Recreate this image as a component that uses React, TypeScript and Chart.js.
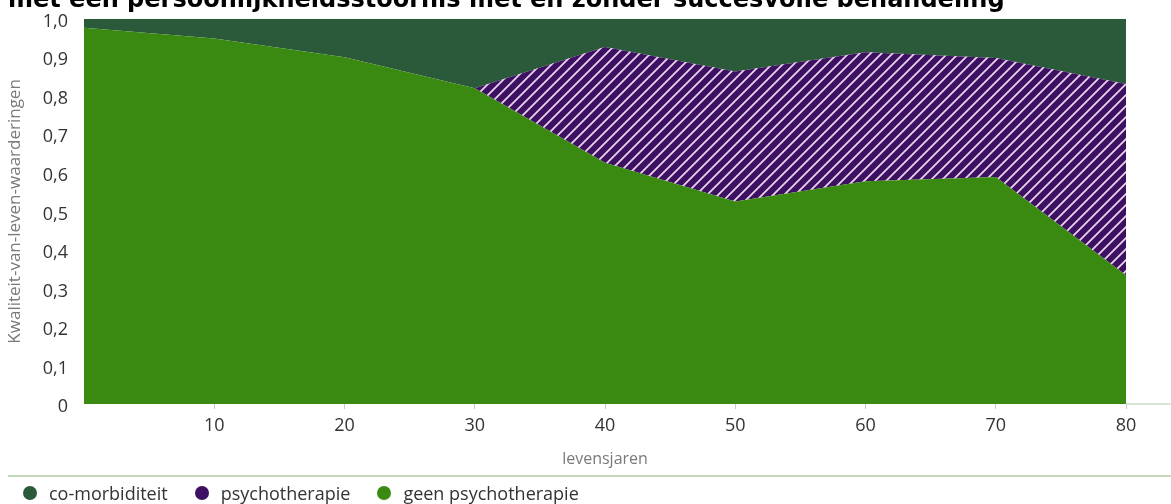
import React, { useEffect, useRef } from "react";
import { Chart, registerables } from "chart.js";

Chart.register(...registerables);

// ---- data ----
const ages = [0, 10, 20, 30, 40, 50, 60, 70, 80];
const geenPsychotherapie = [0.977, 0.949, 0.9, 0.82, 0.626, 0.526, 0.578, 0.589, 0.334];
const psychotherapie = [0, 0, 0, 0, 0.301, 0.337, 0.335, 0.309, 0.497];
const coMorbiditeit = [0.023, 0.051, 0.1, 0.18, 0.073, 0.137, 0.087, 0.102, 0.169];
const xTicks = [10, 20, 30, 40, 50, 60, 70, 80];
const yTickLabels = ["0", "0,1", "0,2", "0,3", "0,4", "0,5", "0,6", "0,7", "0,8", "0,9", "1,0"];

const TITLE = "met een persoonlijkheidsstoornis met en zonder succesvolle behandeling";
const Y_TITLE = "Kwaliteit-van-leven-waarderingen";
const X_TITLE = "levensjaren";

const COL_DARK = "#2b5a3b";
const COL_PURPLE = "#3d1062";
const COL_GREEN = "#3a8a12";
const COL_HATCH = "#e8d3ee";
const FONT = "'Open Sans', 'Noto Sans', sans-serif";

const legendItems = [
  { label: "co-morbiditeit", color: COL_DARK },
  { label: "psychotherapie", color: COL_PURPLE },
  { label: "geen psychotherapie", color: COL_GREEN },
];

function makeHatch(): CanvasPattern | string {
  const s = 11;
  const pc = document.createElement("canvas");
  pc.width = s;
  pc.height = s;
  const g = pc.getContext("2d");
  if (!g) return COL_PURPLE;
  g.fillStyle = COL_PURPLE;
  g.fillRect(0, 0, s, s);
  g.strokeStyle = COL_HATCH;
  g.lineWidth = 1.8;
  g.beginPath();
  g.moveTo(-1, s + 1);
  g.lineTo(s + 1, -1);
  g.moveTo(-1, 1);
  g.lineTo(1, -1);
  g.moveTo(s - 1, s + 1);
  g.lineTo(s + 1, s - 1);
  g.stroke();
  const p = g.createPattern(pc, "repeat");
  return p || COL_PURPLE;
}

const linesPlugin = {
  id: "extraLines",
  afterDraw(chart: any) {
    const { ctx, chartArea, width } = chart;
    ctx.save();
    ctx.strokeStyle = "#cbdcc2";
    ctx.lineWidth = 1.5;
    ctx.beginPath();
    ctx.moveTo(chartArea.right, chartArea.bottom);
    ctx.lineTo(width, chartArea.bottom);
    ctx.stroke();
    ctx.lineWidth = 2;
    ctx.strokeStyle = "#c6d9bd";
    ctx.beginPath();
    ctx.moveTo(8, 476);
    ctx.lineTo(width, 476);
    ctx.stroke();
    ctx.restore();
  },
};

export default function App() {
  const ref = useRef<HTMLCanvasElement | null>(null);

  useEffect(() => {
    if (!ref.current) return;
    const hatch = makeHatch();
    const toPts = (arr: number[]) => arr.map((v, i) => ({ x: ages[i], y: v }));
    const chart = new Chart(ref.current, {
      type: "line",
      data: {
        datasets: [
          {
            label: "geen psychotherapie",
            data: toPts(geenPsychotherapie),
            backgroundColor: COL_GREEN,
            borderWidth: 0,
            pointRadius: 0,
            fill: "origin",
            tension: 0,
          },
          {
            label: "psychotherapie",
            data: toPts(psychotherapie),
            backgroundColor: hatch as any,
            borderWidth: 0,
            pointRadius: 0,
            fill: "-1",
            tension: 0,
          },
          {
            label: "co-morbiditeit",
            data: toPts(coMorbiditeit),
            backgroundColor: COL_DARK,
            borderWidth: 0,
            pointRadius: 0,
            fill: "-1",
            tension: 0,
          },
        ],
      },
      options: {
        animation: false,
        responsive: false,
        layout: { padding: { left: 0, right: 45, top: 18, bottom: 0 } },
        plugins: {
          legend: { display: false },
          tooltip: { enabled: false },
        },
        scales: {
          x: {
            type: "linear",
            min: 0,
            max: 80,
            afterBuildTicks: (axis: any) => {
              axis.ticks = xTicks.map((v) => ({ value: v }));
            },
            afterFit: (scale: any) => {
              scale.height = 100;
            },
            grid: {
              display: true,
              drawOnChartArea: false,
              drawTicks: true,
              tickLength: 5,
              color: "#c8c8c8",
              lineWidth: 1,
            },
            border: { display: false },
            ticks: {
              padding: 6,
              color: "#333333",
              font: { family: FONT, size: 18 },
              maxRotation: 0,
            },
            title: {
              display: true,
              text: X_TITLE,
              color: "#7a7a7a",
              font: { family: FONT, size: 16 },
              padding: { top: 0, bottom: 35 },
            },
          },
          y: {
            stacked: true,
            min: 0,
            max: 1,
            afterFit: (scale: any) => {
              scale.width = 84;
            },
            grid: { display: false },
            border: { display: false },
            ticks: {
              stepSize: 0.1,
              padding: 8,
              labelOffset: 3,
              color: "#333333",
              font: { family: FONT, size: 18 },
              callback: (_v: any, i: number) => yTickLabels[i],
            },
            title: {
              display: true,
              text: Y_TITLE,
              color: "#7a7a7a",
              font: { family: FONT, size: 17 },
              padding: { top: 5, bottom: 0 },
            },
          },
        },
      },
      plugins: [linesPlugin],
    } as any);
    return () => chart.destroy();
  }, []);

  return (
    <div
      style={{
        position: "fixed",
        left: 0,
        top: 0,
        width: 1171,
        height: 504,
        overflow: "hidden",
        background: "#ffffff",
      }}
    >
      <canvas
        ref={ref}
        width={1171}
        height={504}
        style={{ position: "absolute", left: 0, top: 0, width: 1171, height: 504 }}
      />
      <div
        style={{
          position: "absolute",
          left: 8,
          top: -13,
          whiteSpace: "nowrap",
          fontFamily: "'DejaVu Sans', Verdana, sans-serif",
          fontWeight: "bold",
          fontSize: 24,
          lineHeight: "24px",
          color: "#000",
        }}
      >
        {TITLE}
      </div>
      <div
        style={{
          position: "absolute",
          left: 23,
          top: 482,
          height: 22,
          display: "flex",
          alignItems: "center",
          fontFamily: FONT,
          fontSize: 18,
          color: "#333333",
          whiteSpace: "nowrap",
        }}
      >
        {legendItems.map((it) => (
          <div key={it.label} style={{ display: "flex", alignItems: "center", marginRight: 27 }}>
            <span
              style={{
                display: "inline-block",
                width: 14,
                height: 14,
                borderRadius: 7,
                background: it.color,
                marginRight: 12,
              }}
            />
            <span>{it.label}</span>
          </div>
        ))}
      </div>
    </div>
  );
}
